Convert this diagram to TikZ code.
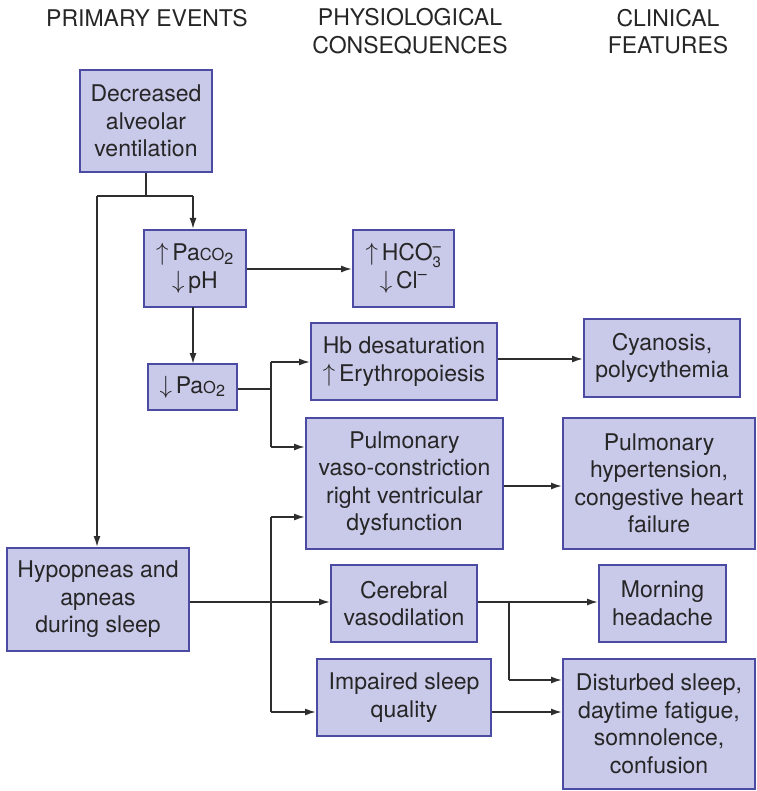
\documentclass[tikz,border=0pt]{standalone}
\usepackage{fontspec}
\setmainfont{TeX Gyre Heros}
\usetikzlibrary{arrows.meta}
\definecolor{boxfill}{HTML}{C9C9EA}
\definecolor{boxline}{HTML}{4B4BA3}
\definecolor{txt}{HTML}{262626}
\definecolor{wire}{HTML}{2E2E2E}
\newcommand{\up}{$\uparrow$\,}
\newcommand{\dn}{$\downarrow$\,}
\newcommand{\smallco}{{\fontsize{16.5}{16}\selectfont CO}}
\newcommand{\scr}[1]{\hbox{\fontsize{15}{15}\selectfont #1}}
\begin{document}
\begin{tikzpicture}[x=1pt,y=-1pt,
  every node/.style={text=txt,font=\fontsize{23}{27.5}\selectfont},
  box/.style={draw=boxline,fill=boxfill,line width=2pt,align=center,inner sep=0pt},
  head/.style={align=center,inner sep=0pt},
  wireline/.style={draw=wire,line width=1.6pt},
  arr/.style={wireline,-{Latex[length=11pt,width=7pt]}}]
\useasboundingbox (0,0) rectangle (756,791);
% headers
\node[head] (h1) at (147,18) {PRIMARY EVENTS};
\node[head] (h2) at (410,31.5) {PHYSIOLOGICAL\\CONSEQUENCES};
\node[head] (h3) at (668,31.5) {CLINICAL\\FEATURES};
% boxes
\node[box,minimum width=132pt,minimum height=102pt] (dav) at (146,121) {Decreased\\alveolar\\ventilation};
\node[box,minimum width=102pt,minimum height=77pt] (paco) at (195,268.5) {\up Pa\smallco\textsubscript{2}\\\dn pH};
\node[box,minimum width=101pt,minimum height=77pt] (hco) at (403.5,268.5) {\up HCO$_{\scr{3}}^{\scr{–}}$\\\dn Cl\textsuperscript{–}};
\node[box,minimum width=89pt,minimum height=46pt] (pao) at (192.5,387) {\dn Pa{\fontsize{16.5}{16}\selectfont O}\textsubscript{2}};
\node[box,minimum width=186pt,minimum height=77pt] (hb) at (404,361.5) {Hb desaturation\\\up Erythropoiesis};
\node[box,minimum width=156pt,minimum height=78pt] (cyan) at (662,358) {Cyanosis,\\polycythemia};
\node[box,minimum width=197pt,minimum height=131pt] (pvc) at (404.5,483.5) {Pulmonary\\vaso-constriction\\right ventricular\\dysfunction};
\node[box,minimum width=192pt,minimum height=131pt] (phyp) at (659,483.5) {Pulmonary\\hypertension,\\congestive heart\\failure};
\node[box,minimum width=182pt,minimum height=103pt] (hyp) at (98,599.5) {Hypopneas and\\apneas\\during sleep};
\node[box,minimum width=146pt,minimum height=77pt] (cer) at (404,603.5) {Cerebral\\vasodilation};
\node[box,minimum width=127pt,minimum height=77pt] (morn) at (662.5,603.5) {Morning\\headache};
\node[box,minimum width=174pt,minimum height=77pt] (imp) at (404,697.5) {Impaired sleep\\quality};
\node[box,minimum width=192pt,minimum height=130pt] (dist) at (659,724) {Disturbed sleep,\\daytime fatigue,\\somnolence,\\confusion};
% junction coordinates
\coordinate (j1) at (146,196);
\coordinate (jl) at (97,196);
\coordinate (jr) at (193,196);
\coordinate (p1) at (271,389);
\coordinate (p2) at (271,362);
\coordinate (p3) at (271,447);
\coordinate (q1) at (271,517);
\coordinate (q2) at (271,712);
\coordinate (r1) at (509,602);
\coordinate (r2) at (509,680);
% connectors
\draw[wireline] (dav.south) -- (j1);
\draw[wireline] (jl) -- (jr);
\draw[arr] (jr) -- (jr |- paco.north);
\draw[arr] (jl) -- (jl |- hyp.north);
\draw[arr] (paco.east |- 0,269) -- (hco.west |- 0,269);
\draw[arr] (193,307) -- (193,364);
\draw[wireline] (pao.east |- p1) -- (p1);
\draw[wireline] (p2) -- (p3);
\draw[arr] (p2) -- (hb.west |- p2);
\draw[arr] (p3) -- (pvc.west |- p3);
\draw[arr] (hb.east |- 0,359) -- (cyan.west |- 0,359);
\draw[arr] (pvc.east |- 0,486) -- (phyp.west |- 0,486);
\draw[arr] (hyp.east |- 0,602) -- (cer.west |- 0,602);
\draw[wireline] (q1) -- (q2);
\draw[arr] (q1) -- (pvc.west |- q1);
\draw[arr] (q2) -- (imp.west |- q2);
\draw[arr] (cer.east |- r1) -- (morn.west |- r1);
\draw[wireline] (r1) -- (r2);
\draw[arr] (r2) -- (dist.west |- r2);
\draw[arr] (imp.east |- 0,712) -- (dist.west |- 0,712);
\end{tikzpicture}
\end{document}
